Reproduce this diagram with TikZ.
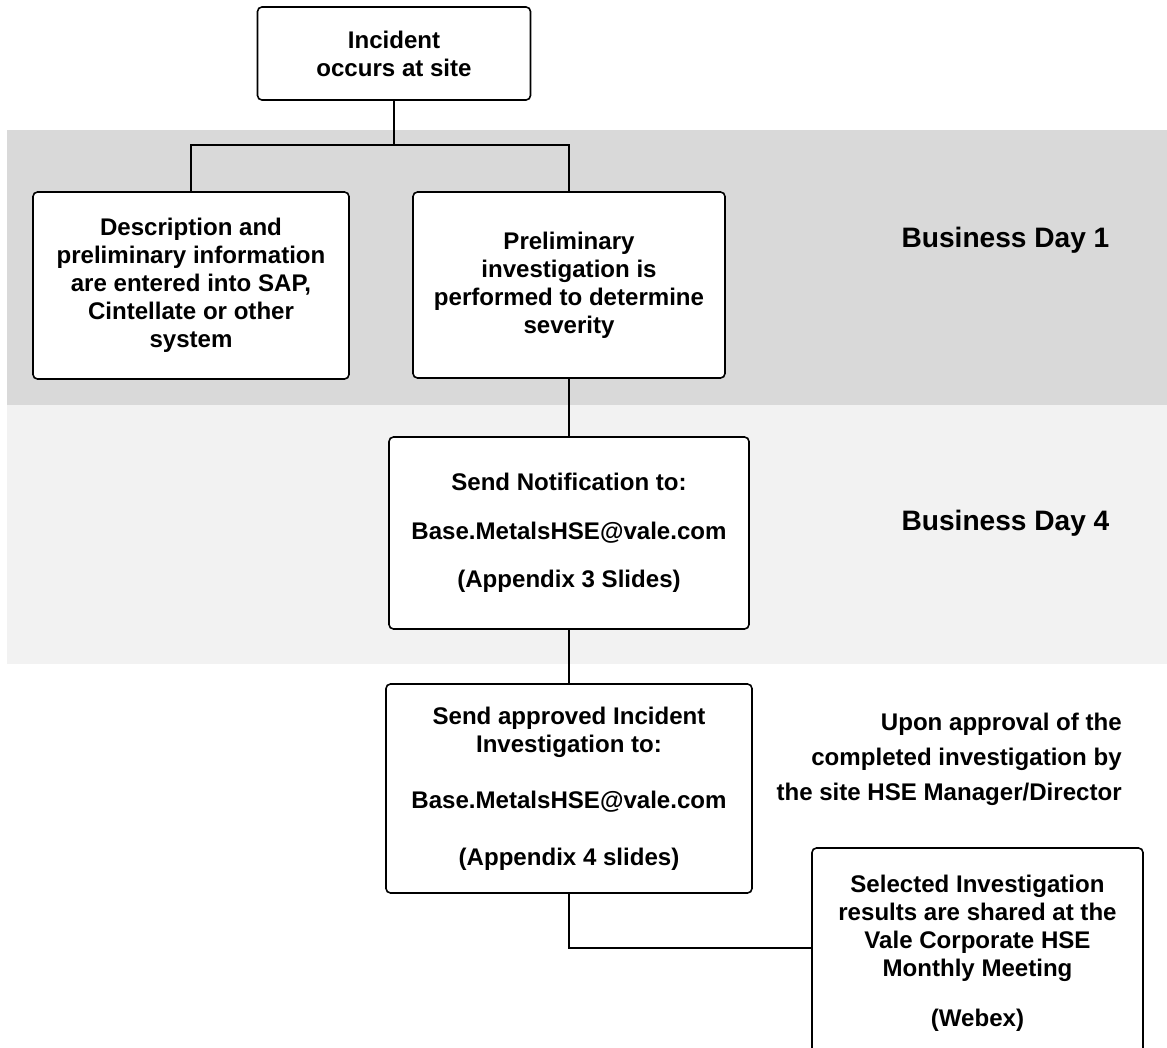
\documentclass[tikz,border=0pt]{standalone}
\usepackage{fontspec}
\setmainfont{Liberation Sans}
\definecolor{dayone}{HTML}{D9D9D9}
\definecolor{dayfour}{HTML}{F2F2F2}
\begin{document}
\begin{tikzpicture}[x=0.02cm, y=-0.02cm,
    stepbox/.style={draw, fill=white, rounded corners=2.5pt, line width=0.9pt, inner sep=0pt, outer sep=0pt, align=center, font=\bfseries\fontsize{13.7}{16}\selectfont},
    link/.style={line width=0.9pt},
    daylabel/.style={font=\bfseries\fontsize{16}{19}\selectfont}]
      \useasboundingbox (0,0) rectangle (1167,1048);
      \fill[white] (0,0) rectangle (1167,1048);
      \fill[dayone] (7,130) rectangle (1167,405);
      \fill[dayfour] (7,405) rectangle (1167,664);
      \node[stepbox, minimum width=5.46cm, minimum height=1.86cm] (0) at (394, 53.5) {Incident\\occurs at site};
      \node[stepbox, minimum width=6.32cm, minimum height=3.74cm] (1) at (191, 285.5) {Description and\\preliminary information\\are entered into SAP,\\Cintellate or other\\system};
      \node[stepbox, minimum width=6.24cm, minimum height=3.72cm] (2) at (569, 285) {Preliminary\\investigation is\\performed to determine\\severity};
      \node[stepbox, minimum width=7.2cm, minimum height=3.84cm] (3) at (569, 533) {Send Notification to:\\[11.7pt]Base.MetalsHSE@vale.com\\[11.7pt](Appendix 3 Slides)};
      \node[stepbox, minimum width=7.32cm, minimum height=4.18cm] (4) at (569, 788.5) {Send approved Incident\\Investigation to:\\[16pt]Base.MetalsHSE@vale.com\\[16pt](Appendix 4 slides)};
      \node[stepbox, minimum width=6.62cm, minimum height=4.2cm] (5) at (977.5, 953) {Selected Investigation\\results are shared at the\\Vale Corporate HSE\\Monthly Meeting\\[12.5pt](Webex)};
      \node[daylabel] (6) at (1005.5, 240) {Business Day 1};
      \node[daylabel] (7) at (1005.5, 523) {Business Day 4};
      \node[anchor=east, align=right, inner sep=0pt, font=\bfseries\fontsize{13.7}{20}\selectfont] (8) at (1122, 759) {Upon approval of the\\completed investigation by\\the site HSE Manager/Director};
      \coordinate (9) at (394, 145);
      \draw[link] (0.south) to (9);
      \draw[link] (1.north) -- (1.north |- 9) -- (2.north |- 9) -- (2.north);
      \draw[link] (2.south) to (3.north);
      \draw[link] (3.south) to (4.north);
      \draw[link] (4.south) |- ([yshift=0.1cm]5.west);
    \end{tikzpicture}
\end{document}
